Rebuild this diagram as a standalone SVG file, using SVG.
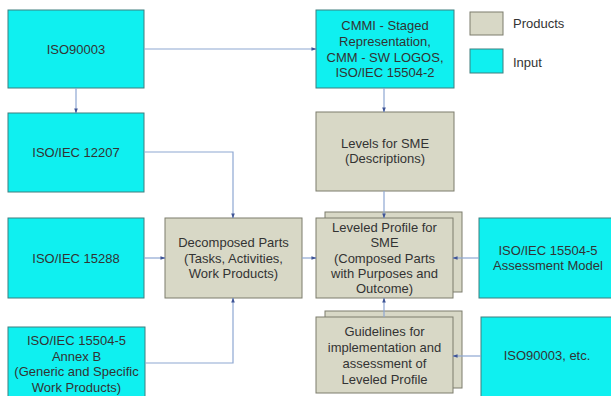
<svg xmlns="http://www.w3.org/2000/svg" width="611" height="396" viewBox="0 0 611 396">
<defs>
<style>
.in{fill:#0ff0f0;stroke:#3e7f7f;stroke-width:1}
.pr{fill:#d8d8c6;stroke:#7c7c6c;stroke-width:1}
.t{font-family:"Liberation Sans",Arial,sans-serif;font-size:13px;fill:#333333;text-anchor:middle}
.lg{font-family:"Liberation Sans",Arial,sans-serif;font-size:13px;fill:#333333}
.c{fill:none;stroke:#8ea7d2;stroke-width:1.2}
</style>
<marker id="ah" viewBox="0 0 6 6" refX="5.5" refY="3" markerWidth="5" markerHeight="5" orient="auto" markerUnits="userSpaceOnUse">
<path d="M0,0.8 L6,3 L0,5.2 Z" fill="#3f5496"/>
</marker>
</defs>
<rect width="611" height="396" fill="#ffffff"/>

<g id="iso90003">
<rect class="in" x="8" y="10" width="136" height="78"/>
<text class="t" x="76" y="53.5">ISO90003</text>
</g>
<g id="iso12207">
<rect class="in" x="8" y="113" width="136" height="79"/>
<text class="t" x="76" y="157">ISO/IEC 12207</text>
</g>
<g id="iso15288">
<rect class="in" x="8" y="218" width="136" height="80"/>
<text class="t" x="76" y="262.5">ISO/IEC 15288</text>
</g>
<g id="annexB">
<rect class="in" x="8" y="327" width="137" height="80"/>
<text class="t" x="76.5" y="344.5">ISO/IEC 15504-5</text>
<text class="t" x="76.5" y="360.5">Annex B</text>
<text class="t" x="76.5" y="376">(Generic and Specific</text>
<text class="t" x="76.5" y="392">Work Products)</text>
</g>
<g id="cmmi">
<rect class="in" x="316" y="10" width="138" height="78"/>
<text class="t" x="385" y="29.5">CMMI - Staged</text>
<text class="t" x="385" y="45.5">Representation,</text>
<text class="t" x="385" y="61.5">CMM - SW LOGOS,</text>
<text class="t" x="385" y="77">ISO/IEC 15504-2</text>
</g>
<g id="legend-products">
<rect class="pr" x="470" y="12" width="33" height="23"/>
<text class="lg" x="513" y="28">Products</text>
</g>
<g id="legend-input">
<rect class="in" x="470" y="49" width="33" height="24"/>
<text class="lg" x="513" y="66.5">Input</text>
</g>
<g id="levels">
<rect class="pr" x="316" y="112" width="138" height="79"/>
<text class="t" x="385" y="147.5">Levels for SME</text>
<text class="t" x="385" y="163">(Descriptions)</text>
</g>
<g id="decomposed">
<rect class="pr" x="165" y="218" width="137" height="80"/>
<text class="t" x="233.5" y="246.5">Decomposed Parts</text>
<text class="t" x="233.5" y="262.5">(Tasks, Activities,</text>
<text class="t" x="233.5" y="278">Work Products)</text>
</g>
<g id="leveled">
<rect class="pr" x="325" y="212" width="137" height="80"/>
<rect class="pr" x="316" y="218" width="137" height="80"/>
<text class="t" x="384.5" y="231.5">Leveled Profile for</text>
<text class="t" x="384.5" y="247">SME</text>
<text class="t" x="384.5" y="262.5">(Composed Parts</text>
<text class="t" x="384.5" y="278">with Purposes and</text>
<text class="t" x="384.5" y="293">Outcome)</text>
</g>
<g id="guidelines">
<rect class="pr" x="325" y="311" width="137" height="77"/>
<rect class="pr" x="316" y="317" width="137" height="76"/>
<text class="t" x="384.5" y="336">Guidelines for</text>
<text class="t" x="384.5" y="352">implementation and</text>
<text class="t" x="384.5" y="367.5">assessment of</text>
<text class="t" x="384.5" y="383.5">Leveled Profile</text>
</g>
<g id="assessmentModel">
<rect class="in" x="479" y="218" width="138" height="80"/>
<text class="t" x="548" y="254.5">ISO/IEC 15504-5</text>
<text class="t" x="548" y="270">Assessment Model</text>
</g>
<g id="iso90003etc">
<rect class="in" x="481" y="317" width="138" height="85"/>
<text class="t" x="547" y="360">ISO90003, etc.</text>
</g>

<g id="connectors">
<path class="c" d="M144,49 H316" marker-end="url(#ah)"/>
<path class="c" d="M76,88 V113" marker-end="url(#ah)"/>
<path class="c" d="M384,88 V112" marker-end="url(#ah)"/>
<path class="c" d="M144,152 H233 V218" marker-end="url(#ah)"/>
<path class="c" d="M144,258 H165" marker-end="url(#ah)"/>
<path class="c" d="M145,363 H233 V298" marker-end="url(#ah)"/>
<path class="c" d="M302,258 H316" marker-end="url(#ah)"/>
<path class="c" d="M384,191 V218" marker-end="url(#ah)"/>
<path class="c" d="M479,258 H453" marker-end="url(#ah)"/>
<path class="c" d="M384,317 V298" marker-end="url(#ah)"/>
<path class="c" d="M481,356 H453" marker-end="url(#ah)"/>
</g>
</svg>
